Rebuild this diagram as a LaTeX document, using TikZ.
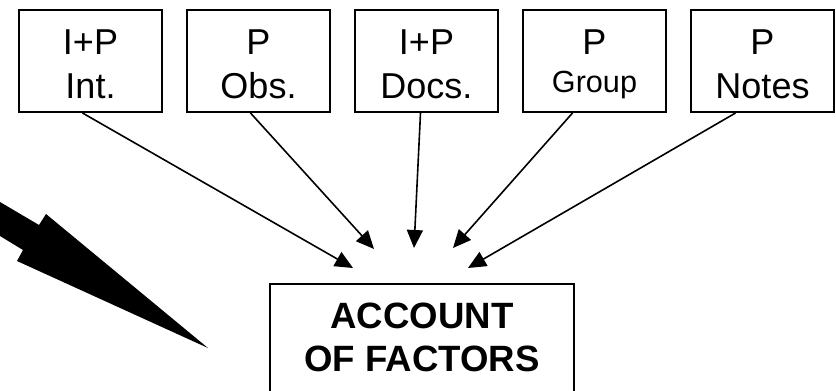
\documentclass[tikz,border=0pt]{standalone}
\usepackage{fontspec}
\setmainfont{Liberation Sans}
\usetikzlibrary{positioning,arrows.meta}
\newcommand{\lift}{\rule{0pt}{16pt}}

\begin{document}
\begin{tikzpicture}
[node distance=11.5pt,>={Triangle[length=9pt,width=8pt]},
src/.style={draw, line width=1pt, minimum width=71.5pt, minimum height=51pt,
  align=center, inner sep=0pt, font=\fontsize{18pt}{22pt}\selectfont},
result/.style={draw, line width=1pt, minimum width=152pt, align=center,
  inner ysep=9.5pt, text depth=40pt, font=\fontsize{18.3pt}{21.5pt}\selectfont\bfseries},
flow/.style={->, line width=0.8pt}]
\useasboundingbox (0,0) rectangle (418pt,-195.5pt);

\node[src, anchor=north west] at (9pt,-4.5pt) (int) {\lift I+P\\Int.};
\node[src, right=of int] (obs) {\lift P\\Obs.};
\node[src, right=of obs] (docs) {\lift I+P\\Docs.};
\node[src, right=of docs] (group) {\lift P\\[-3pt]{\fontsize{15.3pt}{18pt}\selectfont Group}};
\node[src, right=of group] (notes) {\lift P\\Notes};

\node[result, below=85pt of docs, xshift=-2.25pt] (acc) {ACCOUNT\\OF FACTORS};

% loose arrow ends above the account box
\coordinate (hint) at ([shift={(-34.5pt,7.5pt)}]acc.north);
\coordinate (hobs) at ([shift={(-24pt,17pt)}]acc.north);
\coordinate (hdocs) at ([shift={(-4pt,17.5pt)}]acc.north);
\coordinate (hgroup) at ([shift={(15.5pt,17.5pt)}]acc.north);
\coordinate (hnotes) at ([shift={(23pt,7.5pt)}]acc.north);

\draw[flow] ([xshift=-4pt]int.south) -- (hint);
\draw[flow] ([xshift=-4pt]obs.south) -- (hobs);
\draw[flow] ([xshift=-3pt]docs.south) -- (hdocs);
\draw[flow] ([xshift=-11pt]group.south) -- (hgroup);
\draw[flow] ([xshift=-13.5pt]notes.south) -- (hnotes);

% big arrow coming in from the left
\fill (0,-101pt) -- (19.5pt,-112.5pt) -- (23pt,-107pt) -- (104pt,-174pt)
  -- (8.5pt,-130.5pt) -- (11.5pt,-125pt) -- (0,-118pt) -- cycle;
\end{tikzpicture}
\end{document}
